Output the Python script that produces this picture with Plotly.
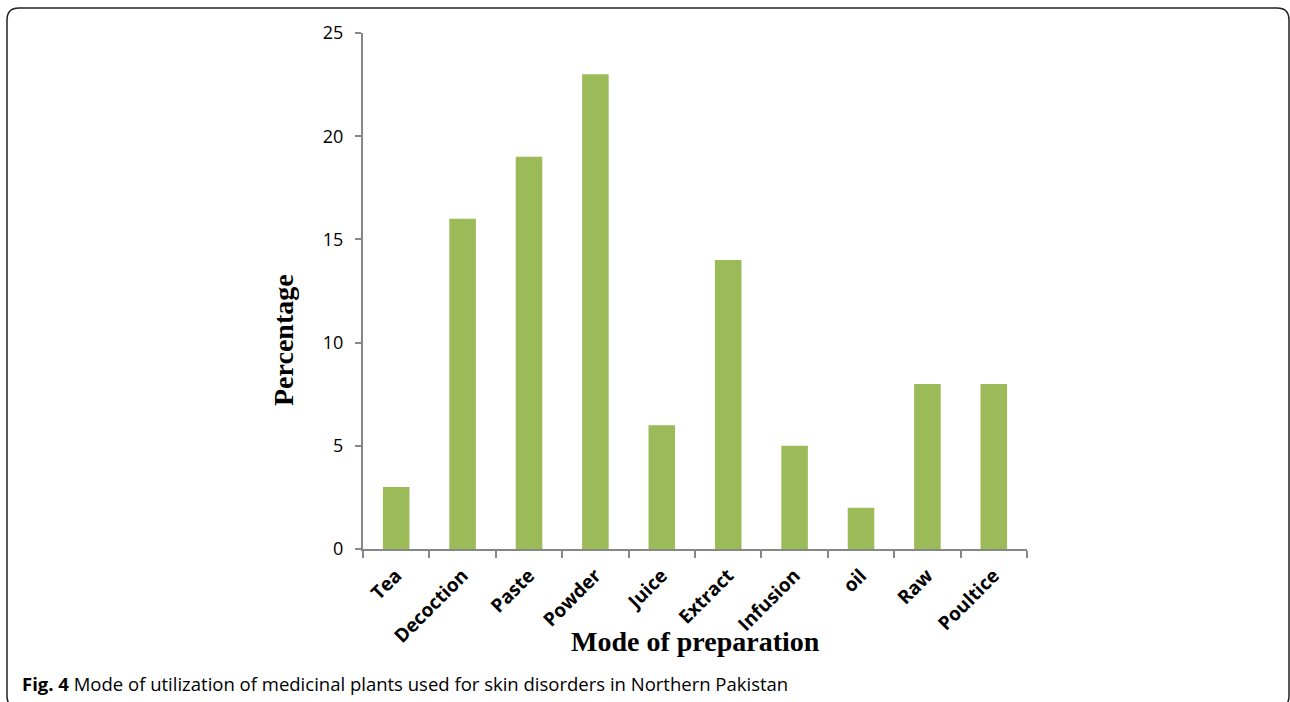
import plotly.graph_objects as go

categories = ["Tea", "Decoction", "Paste", "Powder", "Juice", "Extract", "Infusion", "oil", "Raw", "Poultice"]
values = [3, 16, 19, 23, 6, 14, 5, 2, 8, 8]
y_ticks = [0, 5, 10, 15, 20, 25]

W, H = 1290, 702
L, R, T, B = 363, 263, 33, 153
pw, ph = W - L - R, H - T - B

def px(x):
    return (x - L) / pw

def py(y):
    return (H - B - y) / ph

fig = go.Figure(go.Bar(x=categories, y=values, marker=dict(color="#9BBB59", line=dict(width=0)), width=0.4))

axis_col = "#868686"
fig.update_layout(
    width=W, height=H,
    margin=dict(l=L, r=R, t=T, b=B),
    plot_bgcolor="white", paper_bgcolor="white",
    showlegend=False,
    xaxis=dict(
        showline=True, linecolor=axis_col, linewidth=2,
        ticks="outside", tickson="boundaries", ticklen=7, tickcolor=axis_col, tickwidth=2,
        tickangle=-45,
        tickfont=dict(family="Open Sans", size=19, color="black", weight="bold"),
        ticklabelstandoff=6,
        showgrid=False, zeroline=False,
    ),
    yaxis=dict(
        range=[0, 25], tickvals=y_ticks,
        showline=True, linecolor=axis_col, linewidth=2,
        ticks="outside", ticklen=6, tickcolor=axis_col, tickwidth=2,
        tickfont=dict(family="Open Sans", size=18, color="black"),
        ticklabelstandoff=8,
        showgrid=False, zeroline=False,
    ),
)

x0, x1, y0, y1, r = px(7), px(1289), py(8), py(708), 12
rx, ry = r / pw, r / ph
path = (f"M {x0+rx} {y0} L {x1-rx} {y0} Q {x1} {y0} {x1} {y0-ry} "
        f"L {x1} {y1+ry} Q {x1} {y1} {x1-rx} {y1} L {x0+rx} {y1} "
        f"Q {x0} {y1} {x0} {y1+ry} L {x0} {y0-ry} Q {x0} {y0} {x0+rx} {y0} Z")
fig.add_shape(type="path", path=path, xref="paper", yref="paper",
              line=dict(color="#222222", width=1.5))

fig.add_annotation(x=px(283), y=py(340), xref="paper", yref="paper", text="<b>Percentage</b>",
                   textangle=-90, showarrow=False, xanchor="center", yanchor="middle",
                   font=dict(family="Liberation Serif", size=28, color="black"))
fig.add_annotation(x=px(695), y=py(642), xref="paper", yref="paper", text="<b>Mode of preparation</b>",
                   showarrow=False, xanchor="center", yanchor="middle",
                   font=dict(family="Liberation Serif", size=28, color="black"))
fig.add_annotation(x=px(20), y=py(683), xref="paper", yref="paper", xanchor="left", yanchor="middle",
                   text="<b>Fig. 4</b> Mode of utilization of medicinal plants used for skin disorders in Northern Pakistan",
                   showarrow=False,
                   font=dict(family="Open Sans", size=18.5, color="black"))

fig.write_html("out.html", config={"displayModeBar": False},
               post_script="document.body.style.margin='0';document.body.style.overflow='hidden';")
